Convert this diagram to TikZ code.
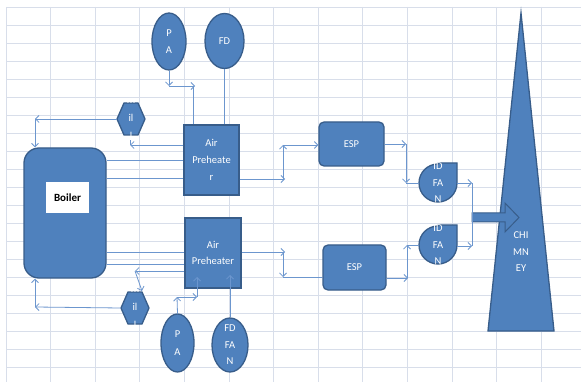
\documentclass[tikz,border=0pt]{standalone}
\usepackage{fontspec}
\setmainfont{Carlito}
\usetikzlibrary{arrows.meta,shapes.geometric}
\definecolor{gridc}{RGB}{216,222,234}
\definecolor{shfill}{RGB}{79,129,189}
\definecolor{shdraw}{RGB}{56,93,138}
\definecolor{connc}{RGB}{108,150,206}
\begin{document}
\begin{tikzpicture}[x=1pt,y=-1pt,
  sh/.style={fill=shfill,draw=shdraw,line width=1.3pt},
  lbl/.style={text=white,font=\fontsize{10.5}{16.5}\selectfont,align=center},
  ell/.style={sh,ellipse,inner sep=0pt},
  box/.style={sh,rectangle,inner sep=0pt,lbl},
  rbox/.style={box,rounded corners=5pt},
  tag/.style={inner sep=0pt,lbl},
  conn/.style={draw=connc,line width=0.8pt},
  arr/.style={conn,-{Straight Barb[length=3.5pt,width=7pt]}}]

\useasboundingbox (0,0) rectangle (581,382);
\fill[white] (0,0) rectangle (581,382);
\foreach \i in {0,...,12} \draw[gridc,line width=0.9pt] (6+44.6*\i,7) -- (6+44.6*\i,382);
\foreach \j in {0,...,20} \draw[gridc,line width=0.9pt] (6,7+18*\j) -- (581,7+18*\j);

% boiler
\node[sh,rectangle,rounded corners=15pt,minimum width=82pt,minimum height=130pt] (boiler) at (65,213) {};
\node[fill=white,minimum width=43pt,minimum height=31pt,inner sep=0pt,font=\bfseries\fontsize{11}{13}\selectfont] (boilerlbl) at (67.5,197.5) {Boiler};

% fans
\node[ell,minimum width=34pt,minimum height=57pt] (paT) at (169,41.5) {};
\node[tag,font=\fontsize{10.5}{17}\selectfont] (paTt) at (paT) {P\\A};
\node[ell,minimum width=39pt,minimum height=55pt] (fdT) at (224.5,41) {};
\node[tag] (fdTt) at (fdT) {FD};
\node[ell,minimum width=33pt,minimum height=58pt] (paB) at (177.5,343) {};
\node[tag,font=\fontsize{10.5}{18}\selectfont] (paBt) at (paB) {P\\A};
\node[ell,minimum width=36pt,minimum height=54pt] (fdB) at (230,345) {};
\node[tag] (fdBt) at (fdB) {FD\\FA\\N};

% air preheaters
\node[box,font=\fontsize{10.5}{17}\selectfont,minimum width=55pt,minimum height=70pt] (aphT) at (211.5,160) {Air\\Preheate\\r};
\node[box,minimum width=56pt,minimum height=70pt] (aphB) at (213,253) {Air\\Preheater};

% ESP
\node[rbox,minimum width=65pt,minimum height=44pt] (espT) at (351.5,144) {ESP};
\node[rbox,minimum width=63pt,minimum height=45pt] (espB) at (354.5,267.5) {ESP};

% mills
\path[sh] (117,119)--(124,103)--(138,103)--(145,119)--(138,135)--(124,135)--cycle;
\node[tag,font=\fontsize{10.5}{18}\selectfont,minimum width=28pt,minimum height=32pt] (hexT) at (131,119) {m\\il\\l};
\path[sh] (121,308)--(128,292)--(142,292)--(149,308)--(142,324)--(128,324)--cycle;
\node[tag,font=\fontsize{10.5}{18}\selectfont,minimum width=28pt,minimum height=32pt] (hexB) at (135,308) {m\\il\\l};

% ID fans
\path[sh] (438,163) -- (457,163) -- (457,183) arc[start angle=0,end angle=-270,radius=19pt] -- cycle;
\node[tag,minimum width=38pt,minimum height=40pt] (idT) at (438,183) {ID\\FA\\N};
\path[sh] (438,225) -- (457,225) -- (457,245) arc[start angle=0,end angle=-270,radius=19pt] -- cycle;
\node[tag,minimum width=38pt,minimum height=40pt] (idB) at (438,245) {ID\\FA\\N};

% chimney
\path[sh] (521,13) -- (554,331) -- (488,331) -- cycle;
\node[tag] (chim) at (521,252) {CHI\\MN\\EY};
\path[sh,line width=1pt] (472,213) -- (505,213) -- (505,203) -- (519,217.5) -- (505,232) -- (505,222) -- (472,222) -- cycle;

% connectors top
\coordinate (a1) at (169,86);
\coordinate (a2) at (195,86);
\coordinate (a3) at (193,86);
\draw[arr] (paT.south) -- (a1);
\draw[arr] (a1) -- (a2);
\draw[conn] (a3) -- (a3 |- aphT.north);
\draw[conn] (fdT.south) -- (fdT.south |- aphT.north);
\coordinate (a4) at (130,145);
\draw[arr] (aphT.west |- a4) -- (a4);
\draw[conn] (a4) -- (a4 |- hexT.south);
\coordinate (a5) at (35,119);
\draw[arr] (hexT.west) -- (a5);
\draw[arr] (a5) -- (a5 |- boiler.north);
\coordinate (a6) at (150,160);
\draw[conn] (boiler.east |- a6) -- (aphT.west |- a6);
\coordinate (a7) at (150,178);
\draw[conn] (boiler.east |- a7) -- (aphT.west |- a7);
\coordinate (a8) at (285,179);
\draw[arr] (aphT.east |- a8) -- (a8);
\coordinate (a9) at (283,145);
\draw[arr] (a9 |- a8) -- (a9);
\draw[arr] (a9) -- (espT.west |- a9);
\coordinate (a10) at (406,144);
\draw[arr] (espT.east |- a10) -- (a10);
\coordinate (a11) at (406,183);
\draw[arr] (a10) -- (a11);
\draw[conn] (a11) -- (idT.west);
\coordinate (a12) at (472,183);
\draw[arr] (idT.east) -- (a12);
\coordinate (a13) at (472,246);
\draw[arr] (idB.east |- a13) -- (a13);
\draw[conn] (a12) -- (a13);

% connectors bottom
\coordinate (b1) at (150,252);
\draw[conn] (boiler.east |- b1) -- (aphB.west |- b1);
\coordinate (b2) at (285,252);
\draw[arr] (aphB.east |- b2) -- (b2);
\coordinate (b3) at (283,277);
\draw[arr] (b3 |- b2) -- (b3);
\draw[conn] (b3) -- (espB.west |- b3);
\coordinate (b4) at (408,278);
\draw[arr] (espB.east |- b4) -- (b4);
\coordinate (b5) at (407,245);
\draw[arr] (b5 |- b4) -- (b5);
\draw[conn] (b5) -- (idB.west |- b5);
\coordinate (b6) at (150,264);
\draw[conn] (boiler.east |- b6) -- (aphB.west |- b6);
\coordinate (b7) at (135,271);
\draw[arr] (aphB.west |- b7) -- (b7);
\coordinate (b8) at (142,291);
\draw[arr] (b7) -- (b8);
\coordinate (b9) at (35,307);
\draw[arr] (hexB.west) -- (b9);
\draw[arr] (b9) -- (b9 |- boiler.south);
\coordinate (b10) at (177,297);
\draw[arr] (paB.north) -- (b10);
\coordinate (b11) at (197,297);
\draw[arr] (b10) -- (b11);
\coordinate (b12) at (197,277);
\draw[arr] (b11) -- (b12);
\coordinate (b13) at (230,275);
\draw[arr] (fdB.north) -- (b13);
\end{tikzpicture}
\end{document}
